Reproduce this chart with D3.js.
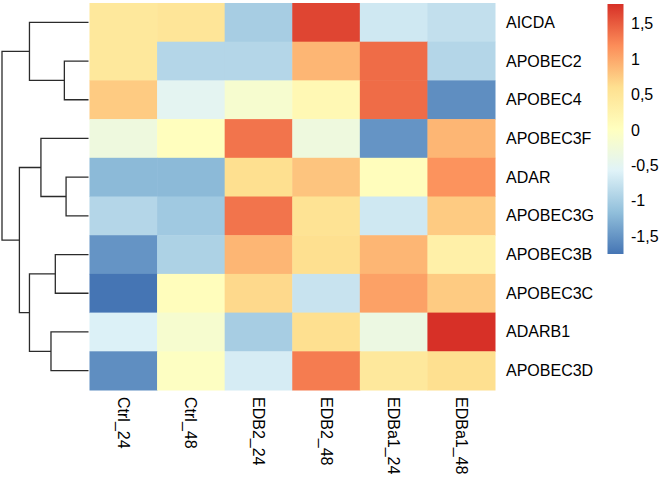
<!DOCTYPE html>
<html>
<head>
<meta charset="utf-8">
<script src="https://cdn.jsdelivr.net/npm/d3@7"></script>
<style>
  html, body { margin: 0; padding: 0; background: #fff; }
  svg { display: block; }
  text { font-family: "Liberation Sans", Arial, sans-serif; fill: #000; }
</style>
</head>
<body>
<svg id="chart" width="660" height="478"></svg>
<script>
// ---- data ----
const rowLabels = ["AICDA","APOBEC2","APOBEC4","APOBEC3F","ADAR","APOBEC3G","APOBEC3B","APOBEC3C","ADARB1","APOBEC3D"];
const colLabels = ["Ctrl_24","Ctrl_48","EDB2_24","EDB2_48","EDBa1_24","EDBa1_48"];
const AICDA     = [ 0.45,  0.50, -1.00,  1.65, -0.70, -0.80];
const APOBEC2   = [ 0.45, -0.90, -0.90,  0.90,  1.40, -0.90];
const APOBEC4   = [ 0.75, -0.50, -0.15,  0.15,  1.40, -1.55];
const APOBEC3F  = [-0.30,  0.03,  1.35, -0.30, -1.50,  0.90];
const ADAR      = [-1.20, -1.20,  0.60,  0.80,  0.05,  1.15];
const APOBEC3G  = [-0.90, -1.05,  1.35,  0.55, -0.70,  0.75];
const APOBEC3B  = [-1.50, -0.95,  0.90,  0.60,  0.90,  0.30];
const APOBEC3C  = [-1.75,  0.05,  0.65, -0.75,  1.05,  0.75];
const ADARB1    = [-0.60, -0.15, -1.00,  0.60, -0.35,  1.78];
const APOBEC3D  = [-1.55, -0.02, -0.65,  1.30,  0.45,  0.60];
const values = [AICDA, APOBEC2, APOBEC4, APOBEC3F, ADAR, APOBEC3G, APOBEC3B, APOBEC3C, ADARB1, APOBEC3D];
// row dendrogram merges (hclust-like): [left, right, height]
const merges = [
  ["APOBEC2", "APOBEC4", 24.0, "n1"],
  ["AICDA", "n1", 58.7, "n2"],
  ["ADAR", "APOBEC3G", 22.3, "n3"],
  ["APOBEC3F", "n3", 47.3, "n4"],
  ["APOBEC3B", "APOBEC3C", 33.0, "n5"],
  ["ADARB1", "APOBEC3D", 37.3, "n6"],
  ["n5", "n6", 58.7, "n7"],
  ["n4", "n7", 68.7, "n8"],
  ["n2", "n8", 86.0, "n9"]
];
const legendTicks = [-1.5, -1, -0.5, 0, 0.5, 1, 1.5];
const palette = ["#4575B4","#91BFDB","#E0F3F8","#FFFFBF","#FEE090","#FC8D59","#D73027"];

// ---- layout ----
const svg = d3.select("#chart");
const hm = {x0: 89.5, x1: 495, y0: 3, y1: 390};

const x = d3.scaleBand().domain(colLabels).range([hm.x0, hm.x1]);
const y = d3.scaleBand().domain(rowLabels).range([hm.y0, hm.y1]);

const all = values.flat();
const vmin = d3.min(all), vmax = d3.max(all);
const color = d3.scaleLinear()
  .domain(d3.range(palette.length).map(i => vmin + (vmax - vmin) * i / (palette.length - 1)))
  .range(palette)
  .interpolate(d3.interpolateRgb);

// cells
const cells = [];
values.forEach((row, i) => row.forEach((v, j) => cells.push({r: rowLabels[i], c: colLabels[j], v})));
svg.append("g").selectAll("rect").data(cells).join("rect")
  .attr("x", d => x(d.c))
  .attr("y", d => y(d.r))
  .attr("width", x.bandwidth() + 0.5)
  .attr("height", y.bandwidth() + 0.5)
  .attr("fill", d => color(d.v));

// row labels
svg.append("g").selectAll("text").data(rowLabels).join("text")
  .attr("x", hm.x1 + 11)
  .attr("y", d => y(d) + y.bandwidth() / 2)
  .attr("dominant-baseline", "central")
  .attr("font-size", 16)
  .text(d => d);

// column labels
svg.append("g").selectAll("text").data(colLabels).join("text")
  .attr("transform", d => `translate(${x(d) + x.bandwidth() / 2},397) rotate(90)`)
  .attr("dominant-baseline", "central")
  .attr("font-size", 16)
  .text(d => d);

// dendrogram
const maxH = d3.max(merges, m => m[2]);
const hx = d3.scaleLinear().domain([0, maxH]).range([hm.x0 - 1, 2]);
const nodes = {};
rowLabels.forEach(r => nodes[r] = {y: y(r) + y.bandwidth() / 2, h: 0});
const dg = svg.append("g").attr("fill", "none").attr("stroke", "#2b2b2b").attr("stroke-width", 1.3);
merges.forEach(([a, b, h, id]) => {
  const na = nodes[a], nb = nodes[b];
  nodes[id] = {y: (na.y + nb.y) / 2, h};
  const path = d3.path();
  path.moveTo(hx(na.h), na.y);
  path.lineTo(hx(h), na.y);
  path.lineTo(hx(h), nb.y);
  path.lineTo(hx(nb.h), nb.y);
  dg.append("path").attr("d", path.toString());
});

// legend
const lg = {x: 607.5, w: 16, y0: 4, y1: 254};
const ly = d3.scaleLinear().domain([vmin, vmax]).range([lg.y1, lg.y0]);
const defs = svg.append("defs");
const grad = defs.append("linearGradient").attr("id", "lgrad")
  .attr("x1", 0).attr("y1", 1).attr("x2", 0).attr("y2", 0);
grad.selectAll("stop").data(palette).join("stop")
  .attr("offset", (d, i) => i / (palette.length - 1))
  .attr("stop-color", d => d);
svg.append("rect")
  .attr("x", lg.x).attr("y", lg.y0)
  .attr("width", lg.w).attr("height", lg.y1 - lg.y0)
  .attr("fill", "url(#lgrad)");
const fmt = v => String(v).replace(".", ",");
svg.append("g").selectAll("text").data(legendTicks).join("text")
  .attr("x", 631)
  .attr("y", d => ly(d))
  .attr("dominant-baseline", "central")
  .attr("font-size", 16)
  .text(d => fmt(d));
</script>
</body>
</html>
